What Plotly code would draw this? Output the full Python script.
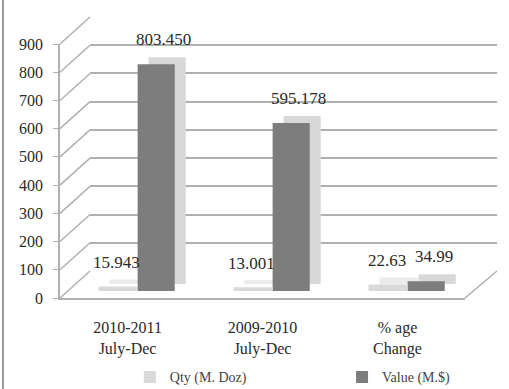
import plotly.graph_objects as go

categories = ["2010-2011<br>July-Dec", "2009-2010<br>July-Dec", "% age<br>Change"]
qty_values = [15.943, 13.001, 22.63]
qty_labels = ["15.943", "13.001", "22.63"]
value_values = [803.450, 595.178, 34.99]
value_labels = ["803.450", "595.178", "34.99"]
y_ticks = [0, 100, 200, 300, 400, 500, 600, 700, 800, 900]
y_max = 900

FONT = "Liberation Serif, Times New Roman, serif"
TXT = "#2a2a2a"
GRID = "#b0b0b0"

# ---- pseudo-3D geometry (pixels) ----
ML, MR, MT, MB = 60, 12, 17, 91
W = 509 - ML - MR          # paper width
H = 389 - MT - MB          # paper height
DX, DY = 30, 27            # depth of the back wall
FW = W - DX - 2            # front plot width
FH = H - DY                # front plot height
BAR_UP = 7                 # bars sit mid-depth
SH_DX, SH_DY = 11, 7       # extrusion of each bar

fig = go.Figure()

# empty traces so that the back-wall and front-axis subplots are drawn
fig.add_trace(go.Scatter(x=[], y=[], xaxis="x", yaxis="y", showlegend=False, hoverinfo="skip"))
fig.add_trace(go.Scatter(x=[], y=[], xaxis="x4", yaxis="y4", showlegend=False, hoverinfo="skip"))

# extrusion (side/top faces) of bars
fig.add_trace(go.Bar(x=categories, y=qty_values, xaxis="x2", yaxis="y2",
                     width=0.285, offset=-0.215, marker=dict(color="#ebebeb", line=dict(width=0)),
                     showlegend=False, hoverinfo="skip"))
fig.add_trace(go.Bar(x=categories, y=value_values, xaxis="x2", yaxis="y2",
                     width=0.275, offset=0.075, marker=dict(color="#d8d8d8", line=dict(width=0)),
                     showlegend=False, hoverinfo="skip"))
# front faces
fig.add_trace(go.Bar(x=categories, y=qty_values, xaxis="x3", yaxis="y3", name="Qty (M. Doz)",
                     width=0.285, offset=-0.215, marker=dict(color="#d9d9d9", line=dict(width=0)),
                     legend="legend"))
fig.add_trace(go.Bar(x=categories, y=value_values, xaxis="x3", yaxis="y3", name="Value (M.$)",
                     width=0.275, offset=0.075, marker=dict(color="#7d7d7d", line=dict(width=0)),
                     legend="legend2"))

annotations = []
for c, v, t in zip(categories, qty_values, qty_labels):
    annotations.append(dict(x=c, y=v, xref="x3", yref="y3", text=t, showarrow=False,
                            xshift=-11, yshift=24, yanchor="middle",
                            font=dict(family=FONT, size=17, color=TXT)))
for c, v, t in zip(categories, value_values, value_labels):
    annotations.append(dict(x=c, y=v, xref="x3", yref="y3", text=t, showarrow=False,
                            xshift=36, yshift=25, yanchor="middle",
                            font=dict(family=FONT, size=17, color=TXT)))

k = FH / y_max
shapes = []
# diagonal connectors from front ticks to back wall gridlines
for v in y_ticks:
    shapes.append(dict(type="line", xref="paper", yref="paper",
                       x0=0, y0=v * k / H, x1=DX / W, y1=(DY + v * k) / H,
                       line=dict(color=GRID, width=1.5)))
# right edge of the floor
shapes.append(dict(type="line", xref="paper", yref="paper",
                   x0=FW / W, y0=0, x1=1, y1=DY / H, line=dict(color=GRID, width=1.5)))
# left frame line of the image
shapes.append(dict(type="line", xref="paper", yref="paper",
                   x0=-57 / W, x1=-57 / W, y0=-0.5, y1=1.2, line=dict(color="#9a9a9a", width=2)))

fig.update_layout(
    width=509, height=389,
    margin=dict(l=ML, r=MR, t=MT, b=MB, autoexpand=False),
    paper_bgcolor="white", plot_bgcolor="rgba(0,0,0,0)",
    barmode="overlay",
    font=dict(family=FONT, size=14, color=TXT),
    showlegend=True,
    annotations=annotations,
    shapes=shapes,
    # back wall
    xaxis=dict(domain=[DX / W, 1], range=[0, 1], visible=False, anchor="y"),
    yaxis=dict(domain=[DY / H, 1], range=[0, y_max], tickvals=y_ticks, showgrid=True,
               gridcolor=GRID, gridwidth=1.5, showticklabels=False, ticks="",
               showline=False, zeroline=False, anchor="x"),
    # extrusion axes
    xaxis2=dict(domain=[SH_DX / W, (FW + SH_DX) / W], range=[-0.5, 2.5], visible=False,
                type="category", anchor="y2"),
    yaxis2=dict(domain=[(BAR_UP + SH_DY) / H, (FH + BAR_UP + SH_DY) / H], range=[0, y_max],
                visible=False, anchor="x2"),
    # bar axes
    xaxis3=dict(domain=[0, FW / W], range=[-0.5, 2.5], visible=False, type="category",
                anchor="y3"),
    yaxis3=dict(domain=[BAR_UP / H, (FH + BAR_UP) / H], range=[0, y_max], visible=False,
                anchor="x3"),
    # front axes
    xaxis4=dict(domain=[0, FW / W], range=[-0.5, 2.5], tickvals=[0, 1, 2], ticktext=categories,
                showline=True, linecolor=GRID, linewidth=1.5, ticks="", showgrid=False,
                zeroline=False, ticklabelstandoff=14, anchor="y4",
                tickfont=dict(family=FONT, size=16, color=TXT)),
    yaxis4=dict(domain=[0, FH / H], range=[0, y_max], tickvals=y_ticks, showgrid=False,
                showline=True, linecolor=GRID, linewidth=1.5, ticks="outside", ticklen=5,
                tickcolor=GRID, zeroline=False, ticklabelstandoff=7, anchor="x4",
                tickfont=dict(family=FONT, size=16, color=TXT)),
    legend=dict(xref="container", yref="container", x=0.255, xanchor="left",
                y=0.03, yanchor="middle", bgcolor="rgba(0,0,0,0)",
                font=dict(family=FONT, size=14, color="#444444")),
    legend2=dict(xref="container", yref="container", x=0.672, xanchor="left",
                 y=0.03, yanchor="middle", bgcolor="rgba(0,0,0,0)",
                 font=dict(family=FONT, size=14, color="#444444")),
)

fig.write_html("out.html")
